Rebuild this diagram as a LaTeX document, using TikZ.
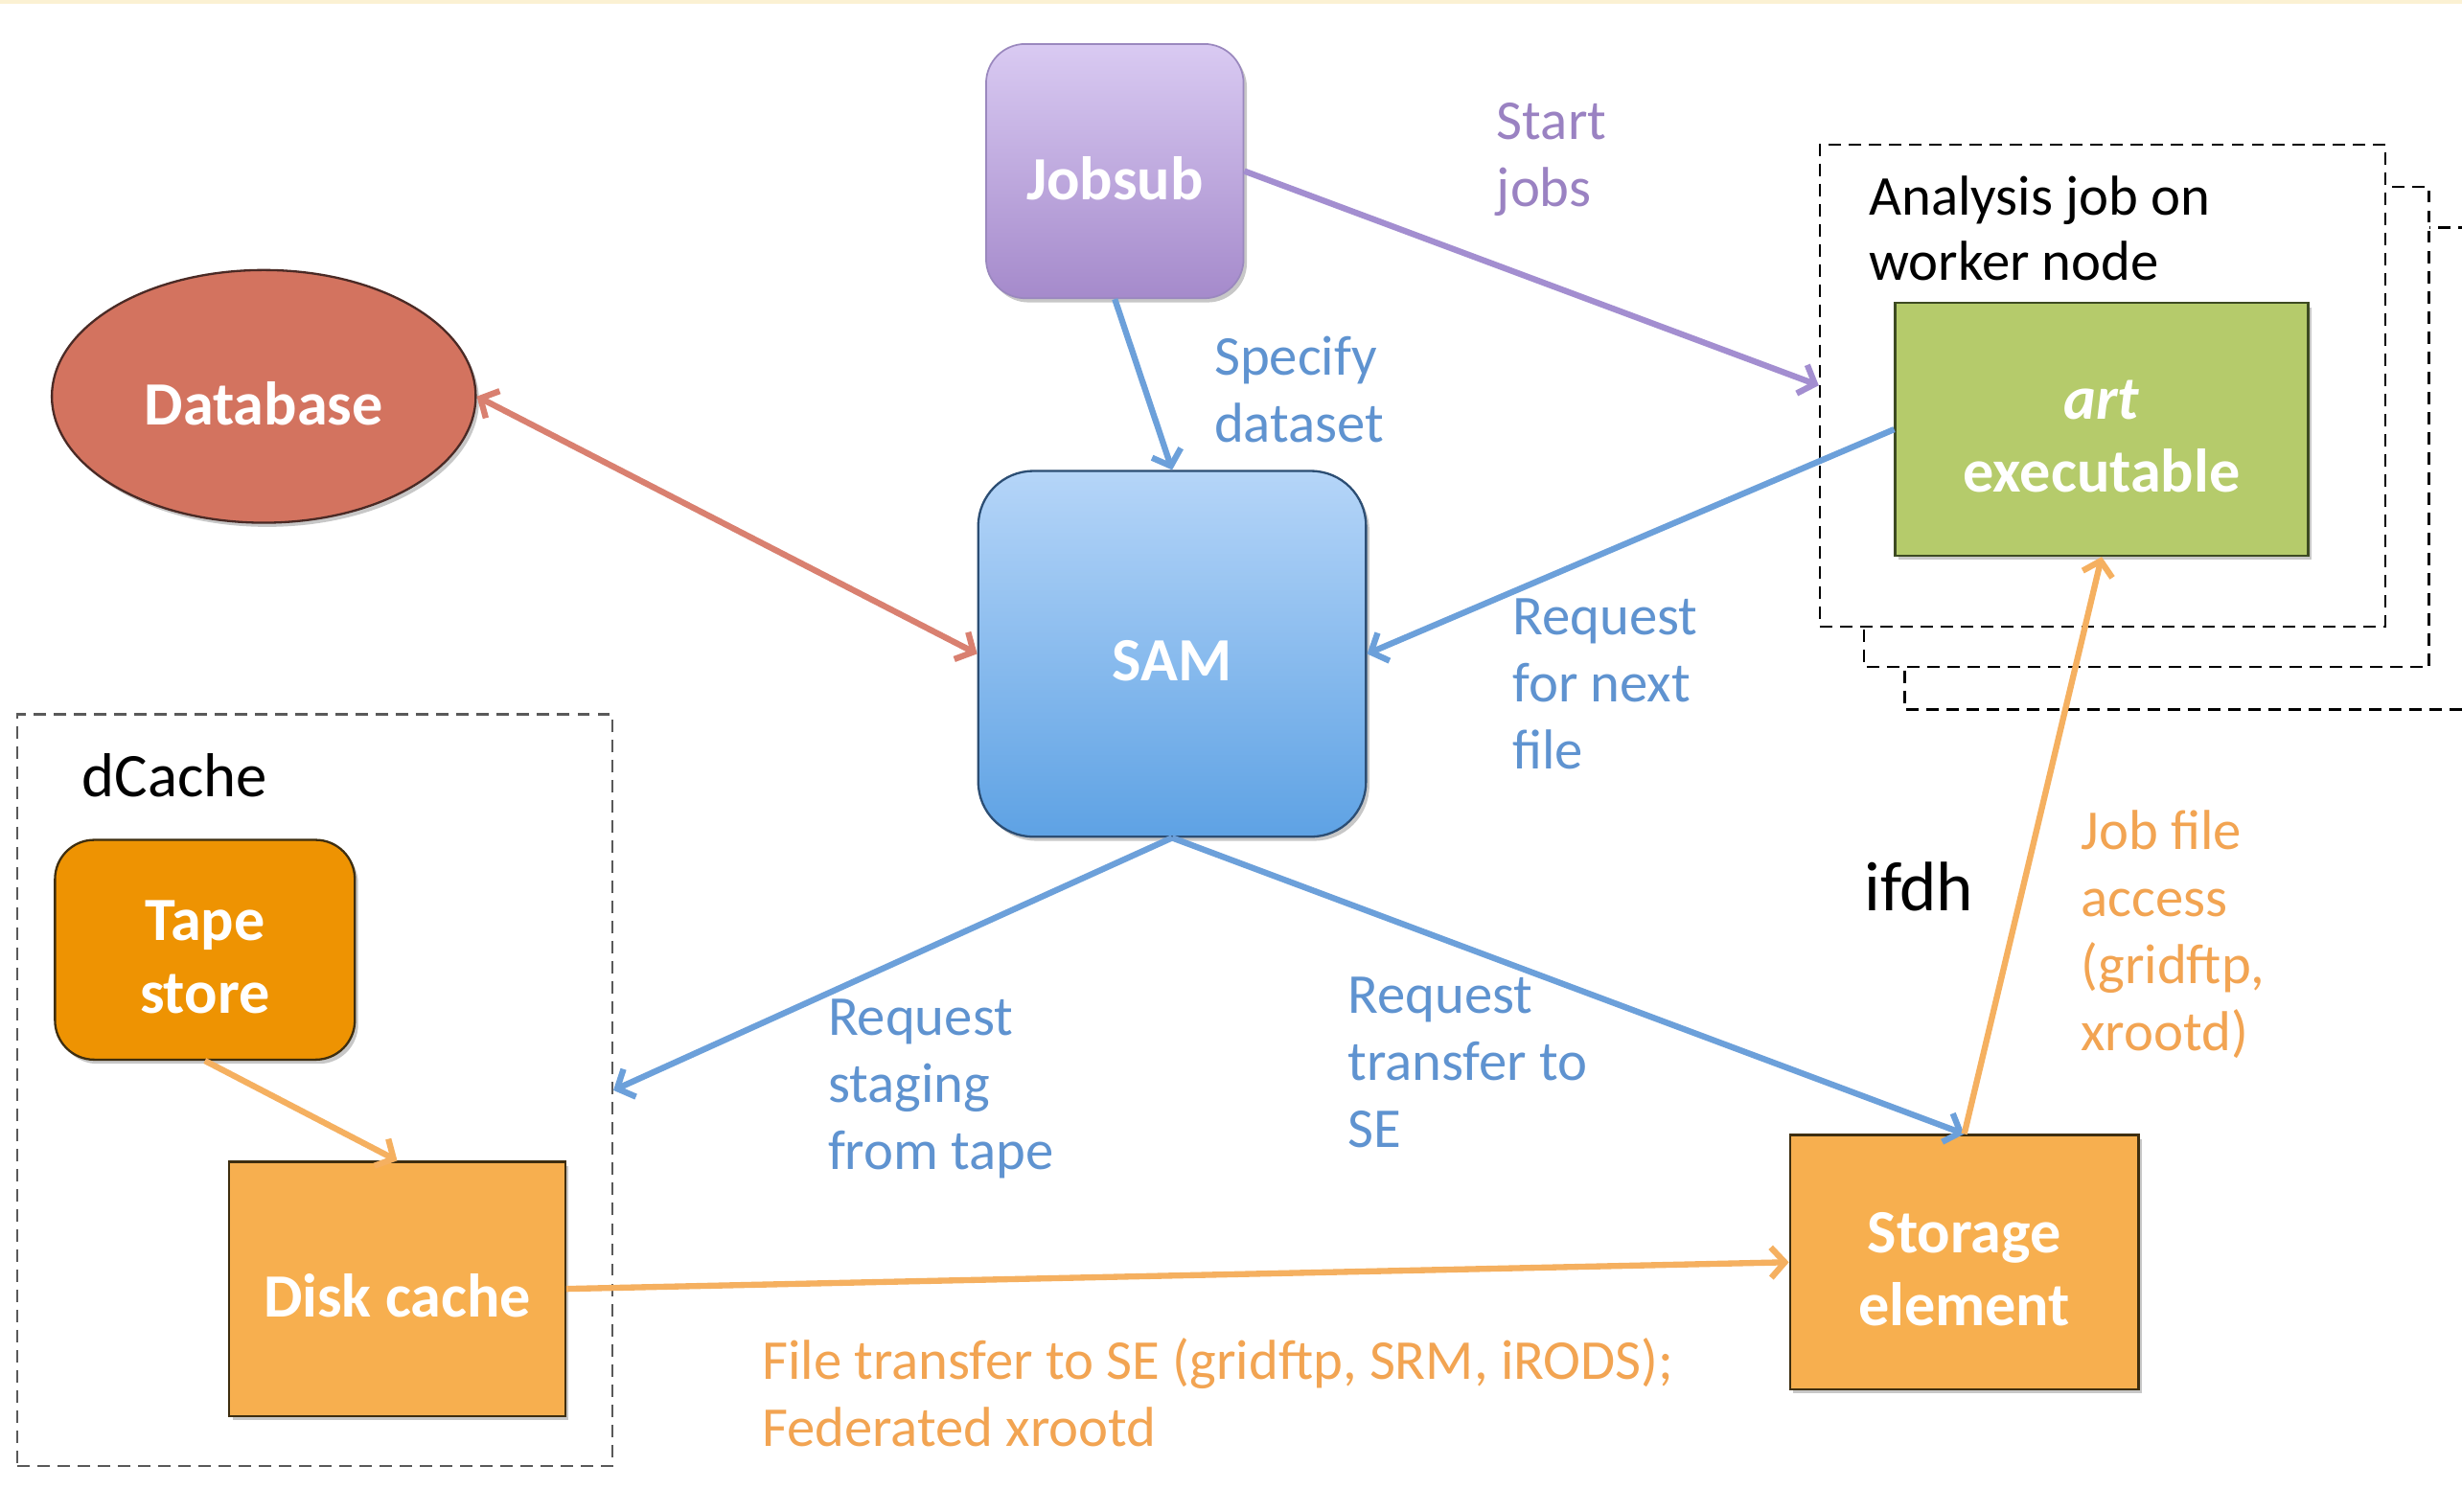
\documentclass[tikz,border=0pt]{standalone}
\usepackage{fontspec}
\setmainfont{Carlito}
\usetikzlibrary{arrows.meta,shapes.geometric,shadows}
\definecolor{purpline}{HTML}{A38ED0}
\definecolor{purptext}{HTML}{9A82C2}
\definecolor{blueline}{HTML}{6CA0DA}
\definecolor{bluetext}{HTML}{5F93D0}
\definecolor{orline}{HTML}{F5B060}
\definecolor{ortext}{HTML}{F2A452}
\definecolor{redline}{HTML}{D98070}
\definecolor{jobtop}{HTML}{D9CAF2}
\definecolor{jobbot}{HTML}{A58ACB}
\definecolor{jobedge}{HTML}{9A88BE}
\definecolor{samtop}{HTML}{B5D5F8}
\definecolor{sambot}{HTML}{5EA2E4}
\definecolor{samedge}{HTML}{2C4E74}
\definecolor{dbfill}{HTML}{D3735F}
\definecolor{dbedge}{HTML}{4A2A25}
\definecolor{artfill}{HTML}{B5CB6B}
\definecolor{artedge}{HTML}{3D4B22}
\definecolor{tapefill}{HTML}{EE9302}
\definecolor{diskfill}{HTML}{F7AF4F}
\definecolor{boxedge}{HTML}{3E2E10}
\definecolor{strip}{HTML}{FBF1D3}
\tikzset{
  boxtxt/.style={text=white, align=center, font=\fontsize{22.3pt}{26.3pt}\selectfont\bfseries, inner sep=0pt, yshift=-2.6pt},
  shad/.style={drop shadow={shadow xshift=1.2pt, shadow yshift=-1.5pt, fill=black, opacity=0.22}},
  dbox/.style={draw=black, line width=0.8pt, dash pattern=on 4.5pt off 2.8pt},
  lbl/.style={inner sep=0pt, anchor=north west, align=left, font=\fontsize{20.4pt}{24.3pt}\selectfont},
  conn/.style={line width=2.2pt, -{Straight Barb[length=5pt,width=11pt]}},
}
\begin{document}
\begin{tikzpicture}[x=0.02cm,y=-0.02cm]
\useasboundingbox (0,0) rectangle (1568,963);
\fill[white] (0,0) rectangle (1568,963);
\fill[strip] (0,0) rectangle (1568,2.5);
% stacked worker-node frames
\begin{scope}
\clip (0,0) rectangle (1568,963);
\draw[dbox, fill=white] (1213,145) rectangle (1580,452);
\draw[dbox, fill=white] (1187,119) rectangle (1547,425);
\end{scope}
\node[dbox, fill=white, minimum width=7.2cm, minimum height=6.14cm, inner sep=0pt] (ana) at (1339,245.5) {};
% dCache frame
\node[dbox, draw=black!65, minimum width=7.58cm, minimum height=9.58cm, inner sep=0pt] (dcache) at (200.5,694.5) {};
% nodes
\node[shad, rounded corners=0.5cm, top color=jobtop, bottom color=jobbot, draw=jobedge, line width=0.6pt,
  minimum width=3.28cm, minimum height=3.24cm] (jobsub) at (710,109) {};
\node[boxtxt] (jobsubt) at (jobsub.center) {Jobsub};
\node[shad, ellipse, fill=dbfill, draw=dbedge, line width=0.8pt,
  minimum width=5.4cm, minimum height=3.22cm] (db) at (168,252.5) {};
\node[boxtxt] (dbt) at (db.center) {Database};
\node[shad, rounded corners=0.7cm, top color=samtop, bottom color=sambot, draw=samedge, line width=0.8pt,
  minimum width=4.94cm, minimum height=4.66cm] (sam) at (746.5,416.5) {};
\node[boxtxt] (samt) at (sam.center) {SAM};
\node[shad, fill=artfill, draw=artedge, line width=0.8pt,
  minimum width=5.26cm, minimum height=3.22cm] (art) at (1338.5,273.5) {};
\node[boxtxt] (artt) at (art.center) {\textit{art}\\executable};
\node[shad, rounded corners=0.5cm, fill=tapefill, draw=boxedge, line width=0.8pt,
  minimum width=3.82cm, minimum height=2.8cm] (tape) at (130.5,605) {};
\node[boxtxt] (tapet) at (tape.center) {Tape\\store};
\node[shad, fill=diskfill, draw=boxedge, line width=0.8pt,
  minimum width=4.28cm, minimum height=3.24cm] (disk) at (253,821) {};
\node[boxtxt] (diskt) at (disk.center) {Disk cache};
\node[shad, fill=diskfill, draw=boxedge, line width=0.8pt,
  minimum width=4.44cm, minimum height=3.24cm] (se) at (1251,804) {};
\node[boxtxt] (set) at (se.center) {Storage\\element};
% connectors
\draw[conn, purpline] (jobsub.east) -- (ana.west);
\draw[conn, blueline] (jobsub.south) -- (sam.north);
\draw[conn, redline, {Straight Barb[length=5pt,width=11pt]}-{Straight Barb[length=5pt,width=11pt]}] (db.east) -- (sam.west);
\draw[conn, blueline] (art.west) -- (sam.east);
\draw[conn, blueline] (sam.south) -- (dcache.east);
\draw[conn, blueline] (sam.south) -- (se.north);
\draw[conn, orline] (se.north) -- (art.south);
\draw[conn, orline] (tape.south) -- (disk.north);
\draw[conn, orline] (disk.east) -- (se.west);
% labels
\node[lbl, text=purptext] (lstart) at (953,65) {Start\\jobs};
\node[lbl, text=bluetext] (lspec) at (773,214) {Specify\\dataset};
\node[lbl, text=bluetext] (lnext) at (963,381) {Request\\for next\\file};
\node[lbl, text=bluetext] (lstage) at (527,636) {Request\\staging\\from tape};
\node[lbl, text=bluetext] (ltrans) at (858,622) {Request\\transfer to\\SE};
\node[lbl, text=ortext] (ljob) at (1325,516) {Job file\\access\\(gridftp,\\xrootd)};
\node[lbl, text=ortext] (lfile) at (485,852) {File transfer to SE (gridftp, SRM, iRODS);\\Federated xrootd};
\node[lbl, text=black, font=\fontsize{20.4pt}{23.5pt}\selectfont] (lana) at (1190,112) {Analysis job on\\worker node};
\node[lbl, text=black, font=\fontsize{22.5pt}{26pt}\selectfont] (ldc) at (52,480) {dCache};
\node[lbl, text=black, font=\fontsize{25.4pt}{29pt}\selectfont] (lifdh) at (1187,549) {ifdh};
\end{tikzpicture}
\end{document}
